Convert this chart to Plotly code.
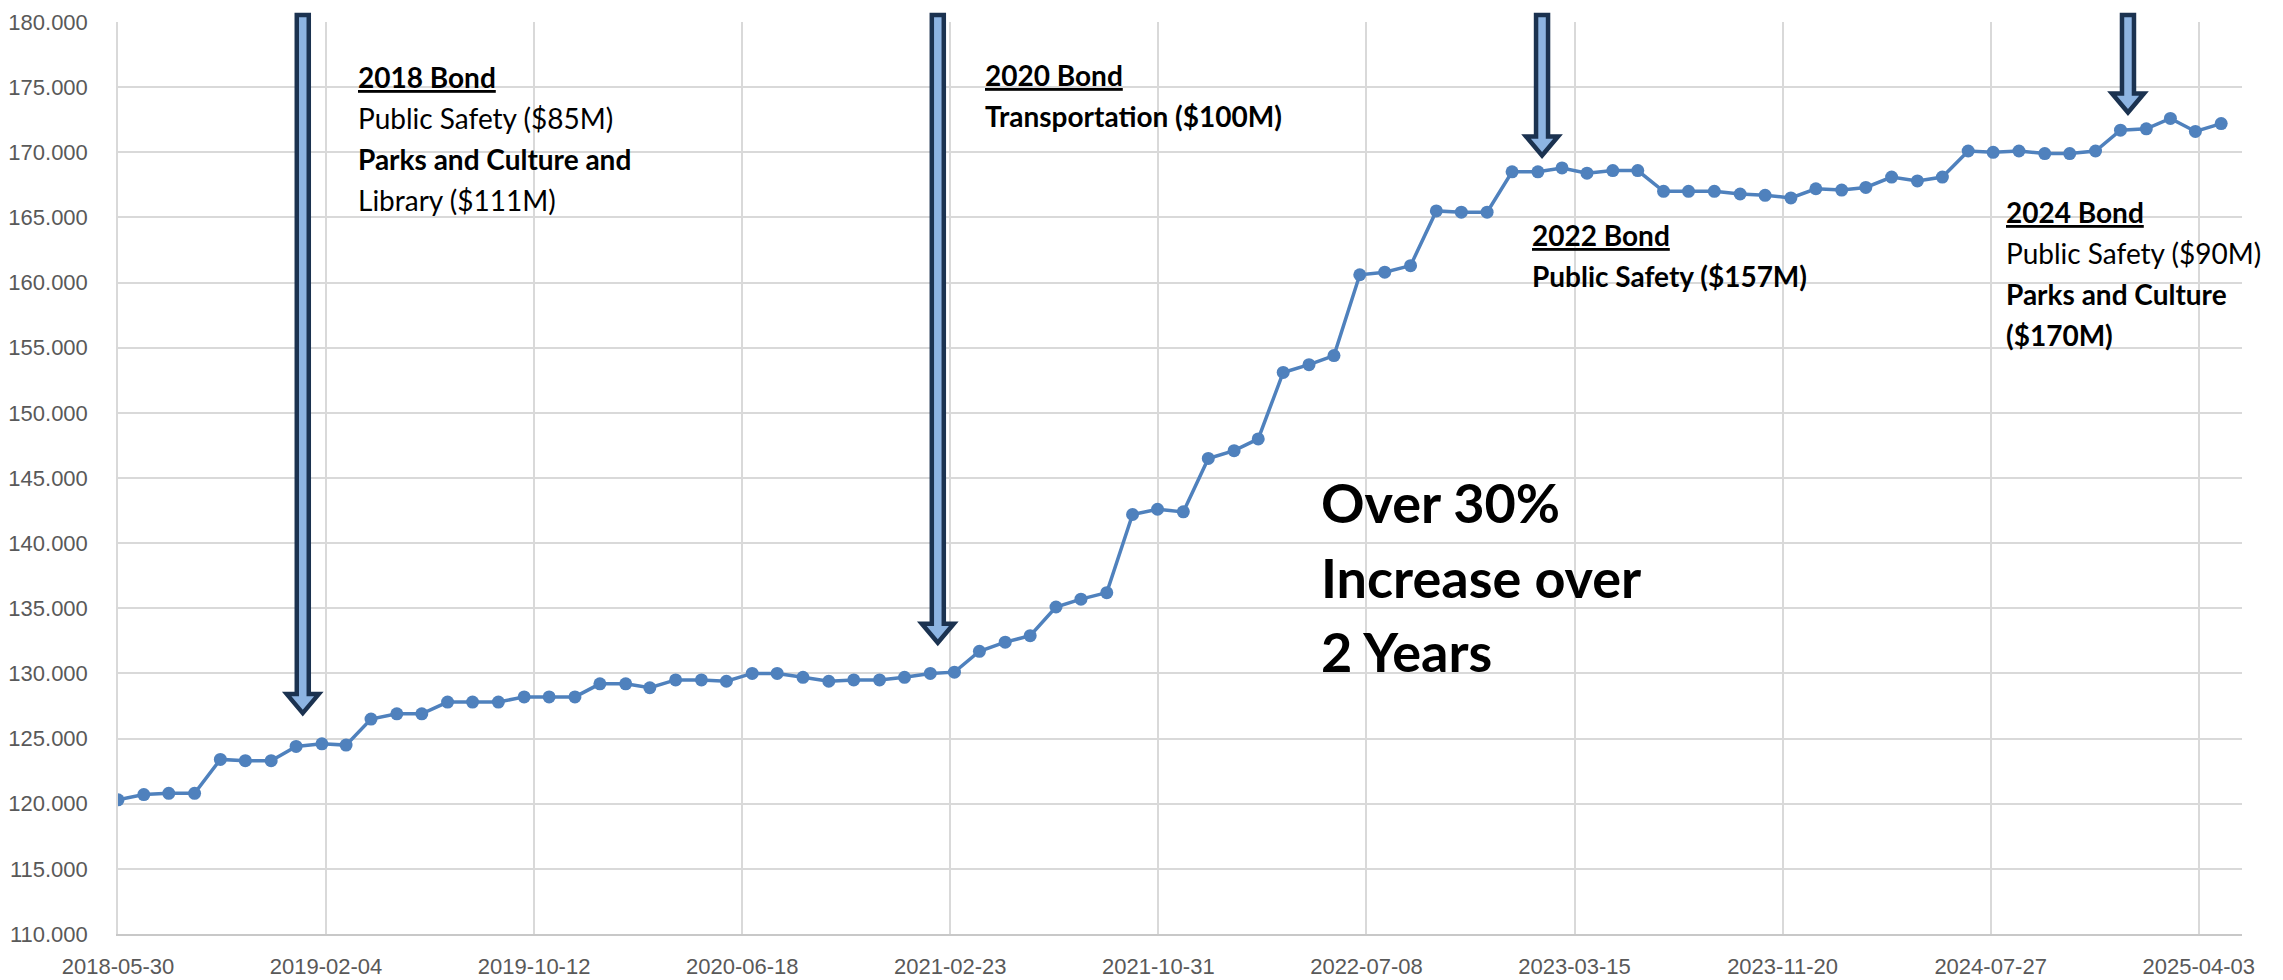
import plotly.graph_objects as go

# ---------------- data ----------------
dates = [
    "2018-05-30", "2018-06-30", "2018-07-30", "2018-08-30", "2018-09-30", "2018-10-30", "2018-11-30", "2018-12-30",
    "2019-01-30", "2019-02-28", "2019-03-30", "2019-04-30", "2019-05-30", "2019-06-30", "2019-07-30", "2019-08-30",
    "2019-09-30", "2019-10-30", "2019-11-30", "2019-12-30",
    "2020-01-30", "2020-02-28", "2020-03-30", "2020-04-30", "2020-05-30", "2020-06-30", "2020-07-30", "2020-08-30",
    "2020-09-30", "2020-10-30", "2020-11-30", "2020-12-30",
    "2021-01-30", "2021-02-28", "2021-03-30", "2021-04-30", "2021-05-30", "2021-06-30", "2021-07-30", "2021-08-30",
    "2021-09-30", "2021-10-30", "2021-11-30", "2021-12-30",
    "2022-01-30", "2022-02-28", "2022-03-30", "2022-04-30", "2022-05-30", "2022-06-30", "2022-07-30", "2022-08-30",
    "2022-09-30", "2022-10-30", "2022-11-30", "2022-12-30",
    "2023-01-30", "2023-02-28", "2023-03-30", "2023-04-30", "2023-05-30", "2023-06-30", "2023-07-30", "2023-08-30",
    "2023-09-30", "2023-10-30", "2023-11-30", "2023-12-30",
    "2024-01-30", "2024-02-28", "2024-03-30", "2024-04-30", "2024-05-30", "2024-06-30", "2024-07-30", "2024-08-30",
    "2024-09-30", "2024-10-30", "2024-11-30", "2024-12-30",
    "2025-01-30", "2025-02-28", "2025-03-30", "2025-04-30",
]

values = [
    120.3, 120.7, 120.8, 120.8, 123.4, 123.3, 123.3, 124.4, 124.6, 124.5,
    126.5, 126.9, 126.9, 127.8, 127.8, 127.8, 128.2, 128.2, 128.2, 129.2,
    129.2, 128.9, 129.5, 129.5, 129.4, 130.0, 130.0, 129.7, 129.4, 129.5,
    129.5, 129.7, 130.0, 130.1, 131.7, 132.4, 132.9, 135.1, 135.7, 136.2,
    142.2, 142.6, 142.4, 146.5, 147.1, 148.0, 153.1, 153.7, 154.4, 160.6,
    160.8, 161.3, 165.5, 165.4, 165.4, 168.5, 168.5, 168.8, 168.4, 168.6,
    168.6, 167.0, 167.0, 167.0, 166.8, 166.7, 166.5, 167.2, 167.1, 167.3,
    168.1, 167.8, 168.1, 170.1, 170.0, 170.1, 169.9, 169.9, 170.1, 171.7,
    171.8, 172.6, 171.6, 172.2,
]

x_tick_labels = [
    "2018-05-30", "2019-02-04", "2019-10-12", "2020-06-18", "2021-02-23", "2021-10-31",
    "2022-07-08", "2023-03-15", "2023-11-20", "2024-07-27", "2025-04-03",
]
y_tick_values = [110, 115, 120, 125, 130, 135, 140, 145, 150, 155, 160, 165, 170, 175, 180]

# bond arrows: date of arrow, value the tip points at
arrow_dates = ["2019-01-07", "2021-02-08", "2023-02-04", "2025-01-08"]
arrow_tips = [126.8, 132.2, 169.6, 172.9]

# bond text blocks
note_dates = ["2019-03-12", "2021-04-03", "2023-01-20", "2024-08-12"]
note_tops = [175.8, 175.9, 163.65, 165.4]
note_lines = [
    ["<b><u>2018 Bond</u></b>", "Public Safety ($85M)", "<b>Parks and Culture and</b>", "Library ($111M)"],
    ["<b><u>2020 Bond</u></b>", "<b>Transportation ($100M)</b>"],
    ["<b><u>2022 Bond</u></b>", "<b>Public Safety ($157M)</b>"],
    ["<b><u>2024 Bond</u></b>", "Public Safety ($90M)", "<b>Parks and Culture</b>", "<b>($170M)</b>"],
]

callout_date = "2022-05-12"
callout_values = [143.15, 137.4, 131.7]
callout_lines = ["<b>Over 30%</b>", "<b>Increase over</b>", "<b>2 Years</b>"]

# ---------------- layout constants ----------------
W, H = 2283, 980
ML, MR, MT, MB = 118, 41, 22, 46
Y_MIN, Y_MAX = 110, 180
plot_h = H - MT - MB
px_per_unit = plot_h / (Y_MAX - Y_MIN)

tick_font = dict(family="Liberation Sans", size=22, color="#595959")
note_font_family = "Lato, Calibri, Noto Sans, sans-serif"

fig = go.Figure()
fig.add_trace(go.Scatter(
    x=dates, y=values, mode="lines+markers",
    line=dict(color="#4F81BD", width=3.5),
    marker=dict(color="#4F81BD", size=13),
    showlegend=False, hoverinfo="x+y",
))

shapes = []
w, hw, hh, top = 6, 16, 19, 7
for d, tip in zip(arrow_dates, arrow_tips):
    dist = (Y_MAX - tip) * px_per_unit - 2
    path = (f"M {-w},{top} L {w},{top} L {w},{-dist + hh} L {hw},{-dist + hh} "
            f"L 0,{-dist} L {-hw},{-dist + hh} L {-w},{-dist + hh} Z")
    shapes.append(dict(
        type="path", xref="x", yref="paper",
        xsizemode="pixel", ysizemode="pixel",
        xanchor=d, yanchor=1,
        path=path, fillcolor="#8DB4E2",
        line=dict(color="#1B3250", width=4.5),
        layer="above",
    ))

annotations = []
for d, ytop, lines in zip(note_dates, note_tops, note_lines):
    for i, t in enumerate(lines):
        annotations.append(dict(
            x=d, y=ytop, xref="x", yref="y", text=t, showarrow=False,
            xanchor="left", yanchor="middle", yshift=-41 * i,
            font=dict(family=note_font_family, size=28, color="#000000"),
        ))
for v, t in zip(callout_values, callout_lines):
    annotations.append(dict(
        x=callout_date, y=v, xref="x", yref="y", text=t, showarrow=False,
        xanchor="left", yanchor="middle",
        font=dict(family=note_font_family, size=54, color="#000000"),
    ))

fig.update_layout(
    width=W, height=H, autosize=False,
    margin=dict(l=ML, r=MR, t=MT, b=MB, pad=0, autoexpand=False),
    paper_bgcolor="white", plot_bgcolor="white",
    shapes=shapes, annotations=annotations,
    xaxis=dict(
        type="date", range=["2018-05-30", "2025-05-25"], automargin=False,
        tickmode="array", tickvals=x_tick_labels, ticktext=x_tick_labels,
        tickfont=tick_font, ticks="", ticklabelstandoff=12,
        showgrid=True, gridcolor="#D9D9D9", gridwidth=1.5,
        showline=True, linecolor="#C8C8C8", linewidth=2,
        zeroline=False,
    ),
    yaxis=dict(
        range=[Y_MIN, Y_MAX], tickmode="array", tickvals=y_tick_values, automargin=False,
        tickformat=".3f", tickfont=tick_font, ticks="", ticklabelstandoff=24,
        showgrid=True, gridcolor="#D9D9D9", gridwidth=1.5,
        showline=True, linecolor="#D9D9D9", linewidth=1.5,
        zeroline=False,
    ),
)

fig.write_html(
    "out.html",
    config={"displayModeBar": False},
    post_script="document.documentElement.style.margin='0';document.body.style.margin='0';"
                "document.body.style.overflow='hidden';",
)
